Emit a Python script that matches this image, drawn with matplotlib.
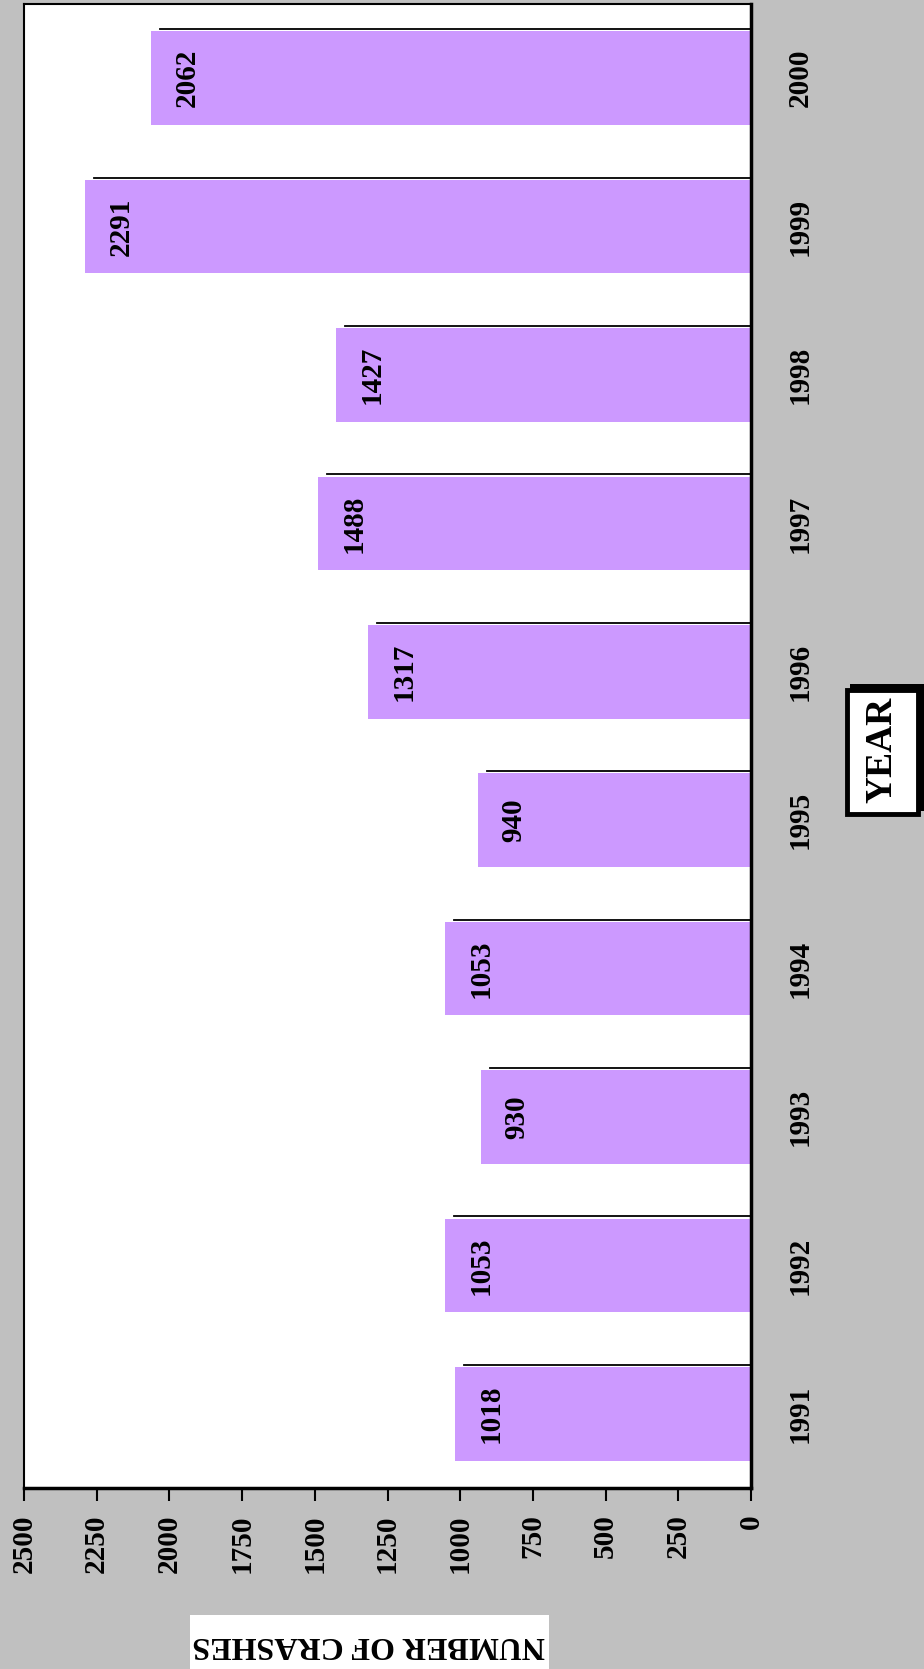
import matplotlib
matplotlib.use('Agg')
import matplotlib.pyplot as plt
from matplotlib.patches import Rectangle

years = ['1991', '1992', '1993', '1994', '1995', '1996', '1997', '1998', '1999', '2000']
crashes = [1018, 1053, 930, 1053, 940, 1317, 1488, 1427, 2291, 2062]
value_ticks = [0, 250, 500, 750, 1000, 1250, 1500, 1750, 2000, 2250, 2500]

plt.rcParams['font.family'] = ['Liberation Serif', 'DejaVu Serif']
plt.rcParams['font.weight'] = 'bold'

W, H = 924, 1669
fig = plt.figure(figsize=(W / 100, H / 100), dpi=100)
fig.patch.set_facecolor('#C0C0C0')

# whole chart is drawn turned a quarter turn: years on the right, values along the bottom
ax = fig.add_axes([24 / W, 181 / H, 727 / W, 1484 / H])
ax.set_facecolor('white')
pos = list(range(len(years)))
ax.barh(pos, crashes, height=0.63, color='#CC99FF', zorder=2)
for i, v in enumerate(crashes):
    # thin dark edge line like the original's shadow
    ax.plot([v - 31, 0], [i + 0.33, i + 0.33], color='black', lw=1.3, zorder=1)
    ax.text(v - 124, i, str(v), rotation=90, ha='center', va='center',
            fontsize=21, fontweight='bold', zorder=3)

ax.set_xlim(2500, 0)
ax.set_ylim(-0.5, len(years) - 0.5)
ax.set_xticks(value_ticks)
ax.set_xticklabels([str(t) for t in value_ticks], rotation=90, fontsize=21, fontweight='bold')
ax.tick_params(axis='x', direction='out', length=9, width=1.5, pad=10)
ax.yaxis.tick_right()
ax.set_yticks(pos)
ax.set_yticklabels(years, rotation=90, va='center', fontsize=21, fontweight='bold')
ax.tick_params(axis='y', length=0, pad=26)
for s in ax.spines.values():
    s.set_linewidth(1.5)
    s.set_color('black')
ax.spines['bottom'].set_linewidth(2.5)
ax.spines['right'].set_linewidth(2.5)


def fx(px):
    return px / W


def fy(py):
    return 1 - py / H


# YEAR box with shadow
fig.patches.append(Rectangle((fx(850), fy(811)), fx(925) - fx(850), fy(684) - fy(811),
                             transform=fig.transFigure, facecolor='black', edgecolor='none'))
fig.patches.append(Rectangle((fx(847), fy(814)), fx(918) - fx(847), fy(690) - fy(814),
                             transform=fig.transFigure, facecolor='white', edgecolor='black',
                             linewidth=3.5))
fig.text(fx(882), fy(750), 'YEAR', rotation=90, ha='center', va='center',
         fontsize=27, fontweight='bold')

# value axis title, upside down
fig.patches.append(Rectangle((fx(190), 0), fx(549) - fx(190), fy(1615),
                             transform=fig.transFigure, facecolor='white', edgecolor='none'))
fig.text(fx(369), fy(1644), 'NUMBER OF CRASHES', rotation=180, ha='center', va='center',
         fontsize=23, fontweight='bold')

fig.savefig('out.png', dpi=100, facecolor=fig.get_facecolor())
